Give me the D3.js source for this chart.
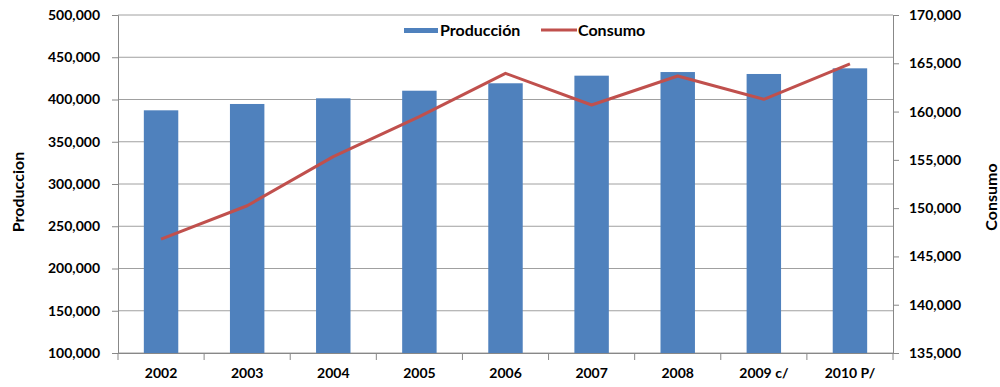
<!DOCTYPE html>
<html>
<head>
<meta charset="utf-8">
<script src="https://cdn.jsdelivr.net/npm/d3@7"></script>
<style>
  body { margin: 0; background: #fff; }
  text { font-family: Lato, "Open Sans", sans-serif; font-weight: bold; fill: #000; }
</style>
</head>
<body>
<div id="chart"></div>
<script>
// data
var years = ["2002", "2003", "2004", "2005", "2006", "2007", "2008", "2009 c/", "2010 P/"];
var produccion = [387200, 394700, 401400, 410400, 419200, 428200, 432500, 430200, 436900];
var consumo = [146800, 150250, 155330, 159470, 163960, 160680, 163680, 161270, 164930];
var leftTicks = [100000, 150000, 200000, 250000, 300000, 350000, 400000, 450000, 500000];
var rightTicks = [135000, 140000, 145000, 150000, 155000, 160000, 165000, 170000];

var svgWidth = 1000;
var svgHeight = 387;
var margin = { top: 15, right: 107, bottom: 34, left: 118 };
var width = svgWidth - margin.left - margin.right;
var height = svgHeight - margin.top - margin.bottom;

var svg = d3.select("#chart").append("svg")
  .attr("width", svgWidth)
  .attr("height", svgHeight);

var g = svg.append("g")
  .attr("transform", `translate(${margin.left}, ${margin.top})`);

var x = d3.scaleBand().domain(years).range([0, width]).paddingInner(0).paddingOuter(0);
var yL = d3.scaleLinear().domain([100000, 500000]).range([height, 0]);
var yR = d3.scaleLinear().domain([135000, 170000]).range([height, 0]);

var fmt = d3.format(",");

// gridlines
g.append("g")
  .selectAll("line")
  .data(leftTicks)
  .enter().append("line")
  .attr("x1", 0).attr("x2", width)
  .attr("y1", d => yL(d)).attr("y2", d => yL(d))
  .attr("stroke", "#a0a0a0").attr("stroke-width", 1);

// bars
var bw = x.bandwidth() * 0.4;
g.selectAll("rect.bar")
  .data(produccion)
  .enter().append("rect")
  .attr("class", "bar")
  .attr("x", (d, i) => x(years[i]) + (x.bandwidth() - bw) / 2)
  .attr("y", d => yL(d))
  .attr("width", bw)
  .attr("height", d => height - yL(d))
  .attr("fill", "#4f81bd");

// line
var line = d3.line()
  .x((d, i) => x(years[i]) + x.bandwidth() / 2)
  .y(d => yR(d));

g.append("path")
  .datum(consumo)
  .attr("d", line)
  .attr("fill", "none")
  .attr("stroke", "#c0504d")
  .attr("stroke-width", 3)
  .attr("stroke-linejoin", "round");

// axes
var leftAxis = d3.axisLeft(yL).tickValues(leftTicks).tickFormat(fmt).tickSize(6).tickPadding(12);
var rightAxis = d3.axisRight(yR).tickValues(rightTicks).tickFormat(fmt).tickSize(6).tickPadding(10);
var bottomAxis = d3.axisBottom(x).tickSize(0).tickPadding(15);

var la = g.append("g").call(leftAxis);
var ra = g.append("g").attr("transform", `translate(${width}, 0)`).call(rightAxis);
var ba = g.append("g").attr("transform", `translate(0, ${height})`).call(bottomAxis);

[la, ra, ba].forEach(function(a) {
  a.select(".domain").attr("stroke", "#888");
  a.selectAll(".tick line").attr("stroke", "#888");
  a.selectAll("text").style("font-size", "14px").style("font-family", "Lato, 'Open Sans', sans-serif").style("font-weight", "bold").attr("fill", "#000");
});

// x ticks at band boundaries
g.append("g")
  .selectAll("line")
  .data(years.concat(["end"]))
  .enter().append("line")
  .attr("x1", (d, i) => i * x.step()).attr("x2", (d, i) => i * x.step())
  .attr("y1", height).attr("y2", height + 7)
  .attr("stroke", "#888");

// axis titles
svg.append("text")
  .attr("transform", `translate(24, ${margin.top + height / 2 + 8}) rotate(-90)`)
  .attr("text-anchor", "middle")
  .style("font-size", "16px")
  .text("Produccion");

svg.append("text")
  .attr("transform", `translate(997, ${margin.top + height / 2 + 13}) rotate(-90)`)
  .attr("text-anchor", "middle")
  .style("font-size", "16px")
  .text("Consumo");

// legend
var legend = svg.append("g");
legend.append("rect")
  .attr("x", 404).attr("y", 28).attr("width", 34).attr("height", 5)
  .attr("fill", "#4f81bd");
legend.append("text")
  .attr("x", 440).attr("y", 36)
  .style("font-size", "16px")
  .text("Producción");
legend.append("line")
  .attr("x1", 541).attr("x2", 577).attr("y1", 30).attr("y2", 30)
  .attr("stroke", "#c0504d").attr("stroke-width", 3);
legend.append("text")
  .attr("x", 578).attr("y", 36)
  .style("font-size", "16px")
  .text("Consumo");
</script>
</body>
</html>
